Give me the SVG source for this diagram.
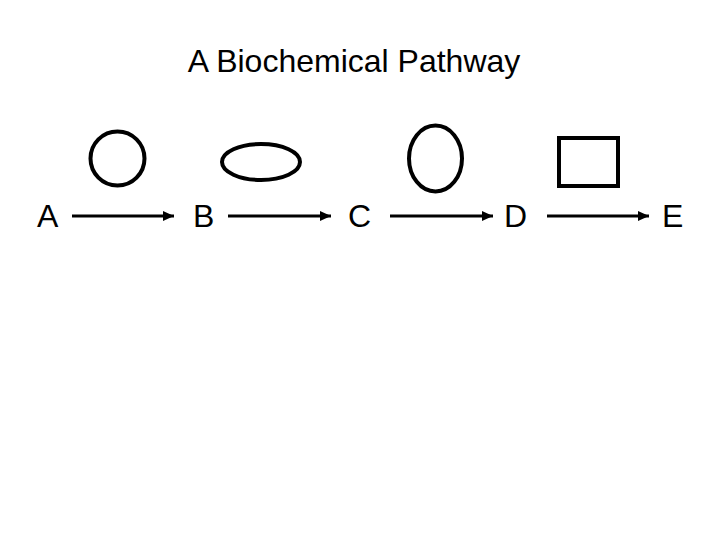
<svg xmlns="http://www.w3.org/2000/svg" width="720" height="540" viewBox="0 0 720 540">
<style>
text{font-family:"Liberation Sans",Arial,sans-serif;fill:#000}
.lbl{font-size:32px}
.t{font-size:32px}
.sh{fill:none;stroke:#000;stroke-width:4}
.c{stroke:#000;stroke-width:3;fill:none}
</style>
<defs>
<marker id="ah" markerWidth="11" markerHeight="10" refX="11" refY="5" orient="auto" markerUnits="userSpaceOnUse">
<path d="M0,0 L11,5 L0,10 Z" fill="#000"/>
</marker>
</defs>
<rect width="720" height="540" fill="#fff"/>
<text class="t" x="354" y="72" text-anchor="middle">A Biochemical Pathway</text>
<g id="shapes">
<circle class="sh" cx="117.5" cy="158.5" r="27"/>
<ellipse class="sh" cx="261" cy="162" rx="39" ry="18"/>
<ellipse class="sh" cx="435.5" cy="158.5" rx="26.5" ry="33"/>
<rect class="sh" x="559" y="138" width="59" height="48"/>
</g>
<g id="nodeA"><text class="lbl" x="37" y="227">A</text></g>
<g id="nodeB"><text class="lbl" x="193" y="227">B</text></g>
<g id="nodeC"><text class="lbl" x="348" y="227">C</text></g>
<g id="nodeD"><text class="lbl" x="504" y="227">D</text></g>
<g id="nodeE"><text class="lbl" x="662" y="227">E</text></g>
<g id="connectors">
<line class="c" x1="72" y1="216" x2="174" y2="216" marker-end="url(#ah)"/>
<line class="c" x1="228" y1="216" x2="331" y2="216" marker-end="url(#ah)"/>
<line class="c" x1="390" y1="216" x2="493" y2="216" marker-end="url(#ah)"/>
<line class="c" x1="547" y1="216" x2="649" y2="216" marker-end="url(#ah)"/>
</g>
</svg>
